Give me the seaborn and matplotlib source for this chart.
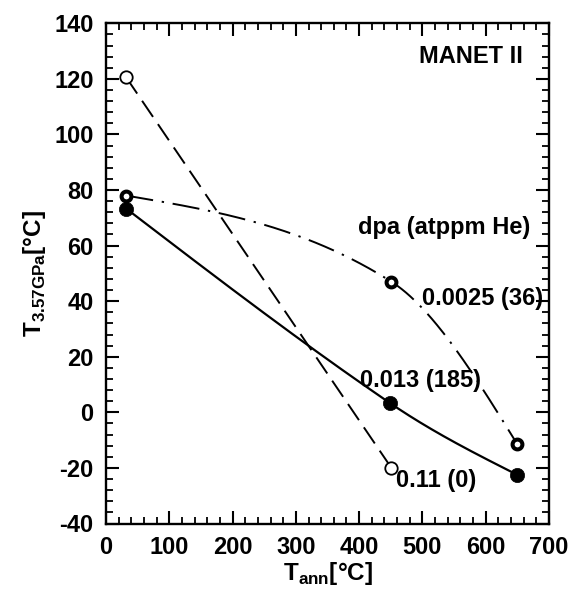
import numpy as np
import pandas as pd
import matplotlib
matplotlib.use("Agg")
import matplotlib.pyplot as plt
import seaborn as sns
from matplotlib.ticker import MultipleLocator

# data
t_ann_a = [32, 451]            # 0.11 dpa (0 appm He)
t_a = [120.5, -20.0]
t_ann_b = [32, 451, 650]       # 0.0025 dpa (36 appm He)
t_b = [78.0, 47.0, -11.5]
t_ann_c = [32, 449, 650]       # 0.013 dpa (185 appm He)
t_c = [73.3, 3.3, -22.5]
series_labels = ["0.11 (0)", "0.0025 (36)", "0.013 (185)"]

sns.set_theme(style="white")
plt.rcParams['font.family'] = ['Liberation Sans', 'DejaVu Sans']
plt.rcParams['font.weight'] = 'bold'
plt.rcParams['mathtext.fontset'] = 'custom'
plt.rcParams['mathtext.rm'] = 'Liberation Sans:bold'
plt.rcParams['mathtext.bf'] = 'Liberation Sans:bold'
plt.rcParams['axes.unicode_minus'] = False
for k in ['text.color', 'axes.labelcolor', 'xtick.color', 'ytick.color',
          'axes.edgecolor']:
    plt.rcParams[k] = 'black'

fig = plt.figure(figsize=(5.70, 5.94), dpi=100)
ax = fig.add_axes([106/570, 1-523.5/594, 443/570, (523.5-23.3)/594])


def smooth(xs, ys, n=120):
    """Smooth connecting line (cubic Hermite, Catmull-Rom interior tangents,
    natural ends) used only to draw the curve through the measured points."""
    xs = np.asarray(xs, float)
    ys = np.asarray(ys, float)
    d = np.diff(ys) / np.diff(xs)
    m = np.zeros_like(xs)
    m[1:-1] = (ys[2:] - ys[:-2]) / (xs[2:] - xs[:-2])
    m[0] = (3 * d[0] - m[1]) / 2
    m[-1] = (3 * d[-1] - m[-2]) / 2
    px, py = [], []
    for i in range(len(xs) - 1):
        h = xs[i + 1] - xs[i]
        t = np.linspace(0, 1, n)
        h00 = 2 * t**3 - 3 * t**2 + 1
        h10 = t**3 - 2 * t**2 + t
        h01 = -2 * t**3 + 3 * t**2
        h11 = t**3 - t**2
        px.append(xs[i] + t * h)
        py.append(h00 * ys[i] + h10 * h * m[i] + h01 * ys[i + 1] + h11 * h * m[i + 1])
    return pd.DataFrame({"x": np.concatenate(px), "y": np.concatenate(py)})


# lines
da = pd.DataFrame({"x": t_ann_a, "y": t_a})
sns.lineplot(data=da, x="x", y="y", ax=ax, color="black", lw=1.4,
             linestyle=(0, (10, 4.5)), sort=False)
db = smooth(t_ann_b, t_b)
sns.lineplot(data=db, x="x", y="y", ax=ax, color="black", lw=1.4,
             linestyle=(0, (14, 4.5, 1.2, 4.5)), sort=False)
dc = smooth(t_ann_c, t_c)
sns.lineplot(data=dc, x="x", y="y", ax=ax, color="black", lw=1.6, sort=False)

# markers
sns.scatterplot(x=t_ann_a, y=t_a, ax=ax, s=80, facecolor="white",
                edgecolor="black", linewidth=1.3, zorder=5)
sns.scatterplot(x=t_ann_b, y=t_b, ax=ax, s=50, facecolor="white",
                edgecolor="black", linewidth=2.9, zorder=5)
sns.scatterplot(x=t_ann_c, y=t_c, ax=ax, s=105, color="black",
                edgecolor="black", linewidth=0.5, zorder=5)

ax.set_xlim(0, 700)
ax.set_ylim(-40, 140)
ax.xaxis.set_major_locator(MultipleLocator(100))
ax.xaxis.set_minor_locator(MultipleLocator(20))
ax.yaxis.set_major_locator(MultipleLocator(20))
ax.yaxis.set_minor_locator(MultipleLocator(4))
ax.tick_params(which="both", direction="in", top=True, right=True,
               bottom=True, left=True, color="black")
ax.tick_params(which="major", length=9.5, width=1.5, labelsize=17, pad=9)
ax.tick_params(which="minor", length=5, width=1.3)
for lab in ax.get_xticklabels() + ax.get_yticklabels():
    lab.set_fontweight("bold")
for s in ax.spines.values():
    s.set_color("black")
    s.set_linewidth(1.7)

ax.set_xlabel(r"T$_{\mathregular{ann}}$[°C]", fontsize=17.5, fontweight="bold",
              labelpad=1)
ax.set_ylabel(r"T$_{\mathregular{3.57GPa}}$[°C]", fontsize=17.5,
              fontweight="bold", labelpad=4)

txt = dict(fontsize=17, fontweight="bold", color="black")
ax.text(659, 128.2, "MANET II", ha="right", va="center", **txt)
ax.text(670, 66.6, "dpa (atppm He)", ha="right", va="center", **txt)
ax.text(499, 40.8, series_labels[1], ha="left", va="center", **txt)
ax.text(401, 11.6, series_labels[2], ha="left", va="center", **txt)
ax.text(459, -24.6, series_labels[0], ha="left", va="center", **txt)

fig.savefig("out.png", dpi=100)
